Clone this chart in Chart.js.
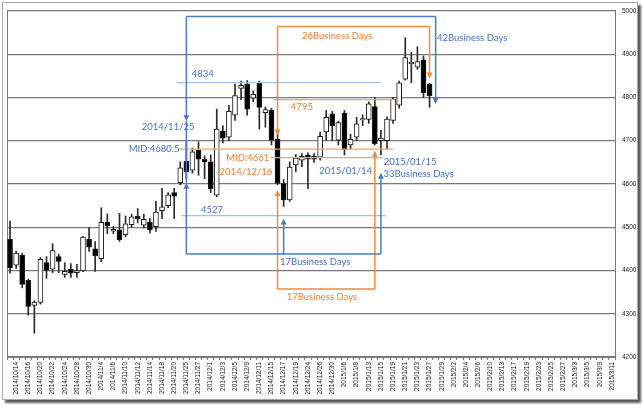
<!DOCTYPE html>
<html><head><meta charset="utf-8">
<script src="https://cdn.jsdelivr.net/npm/chart.js@4.4.1/dist/chart.umd.min.js"></script>
<style>
html,body{margin:0;padding:0;background:#fff;width:644px;height:408px;overflow:hidden;}
#frame{position:absolute;left:2px;top:2px;width:634px;height:396px;border:1px solid #a8a8a8;box-shadow:3px 3px 2px rgba(0,0,0,0.65);background:#fff;}
canvas{position:absolute;left:0;top:0;}
</style></head><body>
<div id="frame"></div>
<canvas id="c" width="644" height="408"></canvas>
<script>
const categories = ['2014/10/10','2014/10/14','2014/10/15','2014/10/16','2014/10/17','2014/10/20','2014/10/21','2014/10/22','2014/10/23','2014/10/24','2014/10/27','2014/10/28','2014/10/29','2014/10/30','2014/10/31',
'2014/11/4','2014/11/5','2014/11/6','2014/11/7','2014/11/10','2014/11/11','2014/11/12','2014/11/13','2014/11/14','2014/11/17','2014/11/18','2014/11/19','2014/11/20','2014/11/21','2014/11/25','2014/11/26','2014/11/27','2014/11/28',
'2014/12/1','2014/12/2','2014/12/3','2014/12/4','2014/12/5','2014/12/8','2014/12/9','2014/12/10','2014/12/11','2014/12/12','2014/12/15','2014/12/16','2014/12/17','2014/12/18','2014/12/19','2014/12/22','2014/12/24','2014/12/25','2014/12/26','2014/12/29','2014/12/30',
'2015/1/5','2015/1/6','2015/1/7','2015/1/8','2015/1/9','2015/1/13','2015/1/14','2015/1/15','2015/1/16','2015/1/19','2015/1/20','2015/1/21','2015/1/22','2015/1/23','2015/1/26','2015/1/27','2015/1/28','2015/1/29','2015/1/30',
'2015/2/2','2015/2/3','2015/2/4','2015/2/5','2015/2/6','2015/2/9','2015/2/10','2015/2/12','2015/2/13','2015/2/16','2015/2/17','2015/2/18','2015/2/19','2015/2/20','2015/2/23','2015/2/24','2015/2/25','2015/2/26','2015/2/27',
'2015/3/2','2015/3/3','2015/3/4','2015/3/5','2015/3/6','2015/3/9','2015/3/10','2015/3/11'];

const opens  = [4472,4412,4435,4377,4319,4326,4418,4403,4432,4391, 4403,4395,4399,4472,4450,4427,4512,4491,4494,4483,
                4506,4525,4505,4512,4501,4538,4550,4580,4603,4653, 4632,4678,4657,4651,4574,4722,4708,4759,4821,4831,
                4798,4833,4765,4770,4704,4601,4563,4644,4655,4667, 4664,4662,4720,4762,4701,4764,4690,4708,4748,4749,
                4779,4700,4700,4747,4782,4842,4878,4870,4887,4831];
const closes = [4406,4440,4368,4317,4327,4426,4400,4446,4421,4398, 4394,4400,4477,4454,4434,4511,4503,4495,4471,4508,
                4524,4520,4518,4494,4535,4547,4575,4572,4637,4628, 4674,4657,4651,4589,4727,4706,4768,4804,4828,4773,
                4807,4777,4772,4701,4601,4563,4639,4660,4664,4657, 4657,4710,4754,4735,4742,4680,4703,4739,4751,4785,
                4693,4706,4750,4796,4834,4892,4881,4883,4811,4804];
const highs  = [4514,4445,4440,4380,4330,4430,4432,4462,4438,4418, 4416,4414,4479,4499,4467,4545,4531,4502,4532,4526,
                4530,4543,4530,4520,4560,4590,4580,4590,4651,4697, 4683,4697,4665,4667,4773,4735,4782,4831,4838,4839,
                4815,4838,4778,4775,4716,4610,4651,4668,4670,4672, 4670,4720,4770,4768,4745,4770,4715,4754,4760,4790,
                4800,4724,4755,4800,4838,4938,4904,4917,4896,4833];
const lows   = [4394,4405,4360,4297,4255,4322,4382,4395,4395,4384, 4384,4384,4397,4444,4398,4420,4485,4485,4467,4478,
                4500,4510,4498,4487,4490,4520,4545,4520,4598,4612, 4625,4620,4612,4580,4570,4695,4700,4747,4795,4759,
                4790,4727,4731,4690,4598,4548,4560,4628,4640,4589, 4650,4655,4701,4700,4690,4667,4680,4700,4735,4740,
                4690,4667,4681,4740,4775,4840,4834,4865,4800,4777];

const tickLabels = categories.map((c, i) => (i % 2 === 1 ? c : ''));
const yTicks = [4200,4300,4400,4500,4600,4700,4800,4900,5000];
const yTickLabels = ['4200','4300','4400','4500','4600','4700','4800','4900','5000'];

// annotation geometry in data units: [catIndex1, value1, catIndex2, value2, arrowAtEnd]
const blueLines = [
  [29,4987,70,4987,0],[29,4987,29,4745,1],[29,4745,29,4603,0],[29,4438,29,4603,1],
  [29,4438,61,4438,0],[61,4438,61,4626,1],[70,4987,70,4785,1],[45,4438,45,4520,1]
];
const orangeLines = [
  [44,4964,69,4964,0],[44,4964,44,4712,1],[44,4357,44,4586,1],
  [44,4357,60,4357,0],[60,4357,60,4677,1],[69,4964,69,4844,1]
];
const blueLevelLines = [[27.4,4834,61,4834],[28.2,4527,61.8,4527]];
const orangeLevelLines = [[27.8,4680.5,63,4680.5],[42.7,4661,61.3,4661],[43.3,4795,63.3,4795]];
const blueTexts = [
  ['4834',31.7,4855],['4527',33.2,4539],['2014/11/25',26,4732],['MID:4680.5',23.7,4680],
  ['2015/01/14',55.2,4630],['2015/01/15',65.8,4652],['33Business Days',67.2,4624],
  ['42Business Days',76,4938],['17Business Days',50.2,4420]
];
const orangeTexts = [
  ['MID:4661',39.1,4661],['2014/12/16',38.8,4628],['4795',48,4779],
  ['26Business Days',53.8,4941],['17Business Days',51.3,4338]
];

const bodies = categories.map((c, i) => i < opens.length ? [opens[i], closes[i]] : null);
const wicks  = categories.map((c, i) => i < opens.length ? [lows[i], highs[i]] : null);
const bodyColors = categories.map((c, i) => (i < opens.length && closes[i] < opens[i]) ? '#000000' : '#ffffff');

const BLUE = '#4a7ebb', ORANGE = '#f08b3e', LBLUE = '#9dc3e6', LORANGE = '#f5a26a';
const BLUE_T = '#4472c4', ORANGE_T = '#ed7d31';

const annotPlugin = {
  id: 'annot',
  beforeDatasetsDraw(chart) {
    const { ctx, chartArea: a } = chart;
    ctx.save();
    ctx.strokeStyle = '#7a7a7a'; ctx.lineWidth = 1;
    ctx.beginPath(); ctx.moveTo(a.left + 0.5, a.top); ctx.lineTo(a.left + 0.5, a.bottom); ctx.stroke();
    ctx.restore();
  },
  afterDatasetsDraw(chart) {
    const { ctx, scales: { x, y } } = chart;
    const px = i => x.getPixelForValue(i), py = v => y.getPixelForValue(v);
    ctx.save();
    const arrow = (tx, ty, dir, color) => {
      ctx.fillStyle = color; ctx.beginPath();
      ctx.moveTo(tx, ty); ctx.lineTo(tx - 3, ty - dir * 6); ctx.lineTo(tx + 3, ty - dir * 6); ctx.closePath(); ctx.fill();
    };
    const seg = (s, color, w) => {
      const x1 = px(s[0]), y1 = py(s[1]), x2 = px(s[2]);
      let y2 = py(s[3]);
      const dir = y2 > y1 ? 1 : -1;
      ctx.strokeStyle = color; ctx.lineWidth = w; ctx.lineCap = 'butt';
      ctx.beginPath(); ctx.moveTo(x1, y1);
      ctx.lineTo(x2, s[4] ? y2 - dir * 5 : y2); ctx.stroke();
      if (s[4]) arrow(x2, y2, dir, color);
    };
    orangeLevelLines.forEach(s => seg(s, LORANGE, 1.2));
    blueLevelLines.forEach(s => seg(s, LBLUE, 1.2));
    orangeLines.forEach(s => seg(s, ORANGE, 1.5));
    blueLines.forEach(s => seg(s, BLUE, 1.5));
    ctx.font = '9.5px Lato';
    ctx.textAlign = 'center'; ctx.textBaseline = 'middle';
    ctx.fillStyle = BLUE_T; blueTexts.forEach(t => ctx.fillText(t[0], px(t[1]), py(t[2])));
    ctx.fillStyle = ORANGE_T; orangeTexts.forEach(t => ctx.fillText(t[0], px(t[1]), py(t[2])));
    ctx.restore();
  }
};

new Chart(document.getElementById('c').getContext('2d'), {
  type: 'bar',
  data: {
    labels: categories,
    datasets: [
      { label: 'body', data: bodies, backgroundColor: bodyColors, borderColor: '#1a1a1a', borderWidth: 1,
        borderSkipped: false, barThickness: 5, grouped: false, order: 0 },
      { label: 'wick', data: wicks, backgroundColor: '#2a2a2a', barThickness: 1, grouped: false, order: 1 }
    ]
  },
  options: {
    responsive: false, animation: false,
    layout: { padding: { left: 7, top: 5, right: 0, bottom: 0 } },
    plugins: { legend: { display: false }, tooltip: { enabled: false } },
    scales: {
      x: {
        offset: true,
        grid: { display: true, drawOnChartArea: false, drawTicks: true, tickLength: 3, color: '#7a7a7a', offset: true },
        border: { display: true, color: '#7a7a7a', width: 1 },
        ticks: { autoSkip: false, maxRotation: 90, minRotation: 90, padding: 2,
          font: { size: 6.5, family: 'Liberation Sans' }, color: '#222',
          callback: (v, i) => tickLabels[i] },
        afterFit: s => { s.height = 51; }
      },
      y: {
        position: 'right', min: 4200, max: 5000,
        afterBuildTicks: s => { s.ticks = yTicks.map(v => ({ value: v })); },
        grid: { color: '#7a7a7a', lineWidth: 1.2, drawTicks: false },
        border: { display: true, color: '#7a7a7a' },
        ticks: { padding: 7, font: { size: 6.5, family: 'Liberation Sans' }, color: '#222',
          callback: (v, i) => yTickLabels[i] },
        afterFit: s => { s.width = 29; }
      }
    }
  },
  plugins: [annotPlugin]
});
</script>
</body></html>
